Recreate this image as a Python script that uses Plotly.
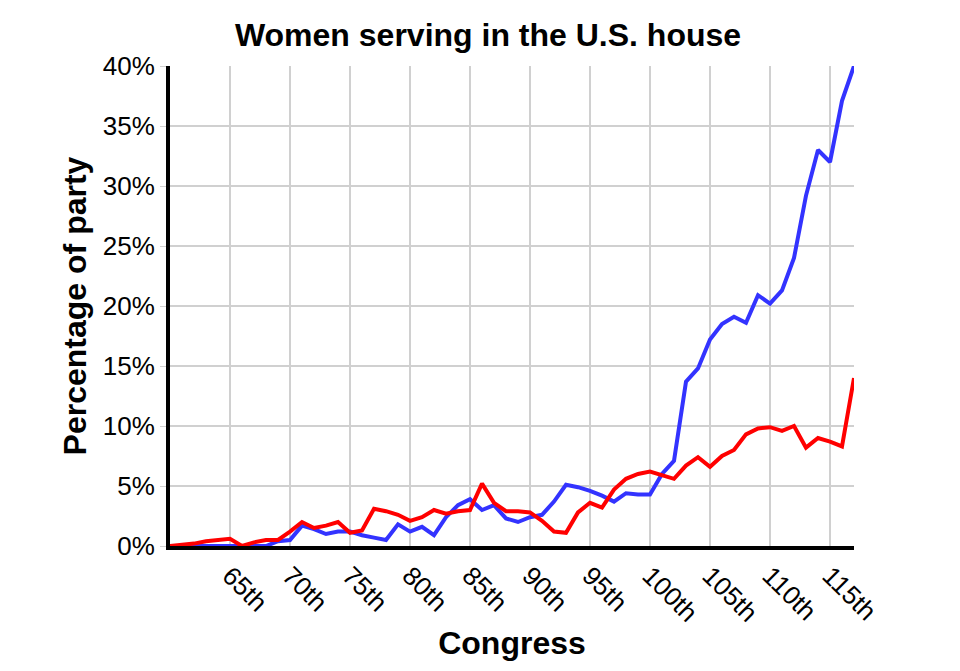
import plotly.graph_objects as go

congress = list(range(60, 118))
dem = [0, 0, 0, 0, 0, 0, 0, 0, 0, 0.4, 0.5, 1.7, 1.4, 1.0, 1.2, 1.2, 0.9, 0.7, 0.5, 1.8,
       1.2, 1.6, 0.9, 2.4, 3.4, 3.9, 3.0, 3.4, 2.3, 2.0, 2.4, 2.6, 3.7, 5.1, 4.9, 4.6,
       4.2, 3.7, 4.4, 4.3, 4.3, 6.0, 7.1, 13.7, 14.8, 17.2, 18.5, 19.1, 18.6, 20.9,
       20.2, 21.3, 24.0, 29.2, 33.0, 32.0, 37.1, 40.0]
rep = [0, 0.1, 0.2, 0.4, 0.5, 0.6, 0, 0.3, 0.5, 0.5, 1.2, 2.0, 1.5, 1.7, 2.0, 1.1,
       1.3, 3.1, 2.9, 2.6, 2.1, 2.4, 3.0, 2.7, 2.9, 3.0, 5.2, 3.6, 2.9, 2.9, 2.8, 2.1,
       1.2, 1.1, 2.8, 3.6, 3.2, 4.7, 5.6, 6.0, 6.2, 5.9, 5.6, 6.7, 7.4, 6.6, 7.5, 8.0,
       9.3, 9.8, 9.9, 9.6, 10.0, 8.2, 9.0, 8.7, 8.3, 14.0]
tick_vals = list(range(65, 116, 5))
tick_text = [f"{v}th" for v in tick_vals]

fig = go.Figure()
fig.add_trace(go.Scatter(x=congress, y=dem, mode="lines", line=dict(color="#3333ff", width=4)))
fig.add_trace(go.Scatter(x=congress, y=rep, mode="lines", line=dict(color="#ff0000", width=4)))

fig.update_layout(
    width=960, height=671,
    paper_bgcolor="white", plot_bgcolor="white",
    showlegend=False,
    margin=dict(l=162, r=114, t=58, b=133),
    font=dict(family="Liberation Sans, Arial", size=26, color="black"),
    title=dict(text="<b>Women serving in the U.S. house</b>", x=0.5, xanchor="center",
               y=0.96, yanchor="middle", font=dict(size=32)),
)
fig.update_xaxes(range=[60, 117], tickvals=tick_vals, ticktext=tick_text, tickangle=45,
                 showgrid=True, gridcolor="#d0d0d0", gridwidth=2,
                 showline=True, linecolor="black", linewidth=4, ticks="",
                 title=dict(text="<b>Congress</b>", font=dict(size=32), standoff=6))
fig.update_yaxes(range=[0, 40], tickvals=list(range(0, 41, 5)),
                 ticktext=[f"{v}%" for v in range(0, 41, 5)],
                 showgrid=True, gridcolor="#d0d0d0", gridwidth=2, zeroline=False,
                 showline=True, linecolor="black", linewidth=4, ticks="outside",
                 ticklen=6, tickcolor="#d0d0d0",
                 title=dict(text="<b>Percentage of party</b>", font=dict(size=32), standoff=8))

fig.write_html("out.html")
